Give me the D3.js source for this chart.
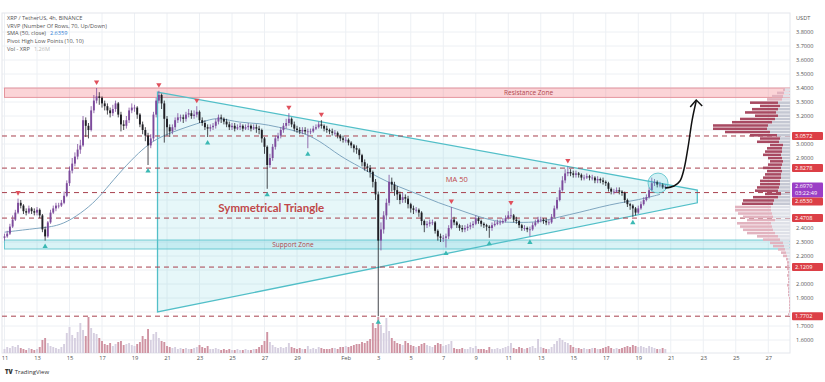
<!DOCTYPE html>
<html><head><meta charset="utf-8">
<script src="https://cdn.jsdelivr.net/npm/d3@7"></script>
<style>
body{margin:0;background:#fff;}
svg{display:block;font-family:"Open Sans",sans-serif;}
</style>
</head><body>
<svg id="c" width="825" height="382"></svg>
<script>
// ---------------- DATA ----------------
const startTime = new Date(2025, 0, 11, 0, 0); // first 4h candle
const open = [
2.33,2.34,2.36,2.41,2.46,2.51,2.58,2.56,2.52,2.51, 2.54,2.52,2.51,2.53,2.49,2.39,2.34,2.44,2.51,2.54,
2.56,2.56,2.58,2.63,2.72,2.81,2.86,2.91,2.96,2.99, 3.17,3.13,3.10,3.24,3.31,3.34,3.33,3.29,3.27,3.24,
3.22,3.25,3.29,3.21,3.14,3.13,3.17,3.24,3.26,3.26, 3.21,3.14,3.10,3.06,2.99,3.04,3.21,3.31,3.35,3.29,
3.18,3.12,3.09,3.12,3.17,3.19,3.19,3.18,3.21,3.22, 3.20,3.21,3.23,3.17,3.15,3.12,3.11,3.12,3.13,3.16,
3.19,3.18,3.16,3.14,3.12,3.13,3.11,3.12,3.13,3.11, 3.12,3.13,3.11,3.12,3.11,3.10,3.04,2.98,2.85,2.90,
2.98,3.04,3.06,3.10,3.13,3.15,3.18,3.14,3.11,3.10, 3.09,3.10,3.09,3.09,3.09,3.11,3.12,3.14,3.13,3.11,
3.10,3.09,3.08,3.08,3.06,3.04,3.03,3.03,3.01,2.99, 2.97,2.96,2.92,2.87,2.84,2.83,2.80,2.73,2.64,2.31,
2.39,2.49,2.58,2.73,2.71,2.67,2.64,2.60,2.62,2.61, 2.57,2.54,2.53,2.53,2.51,2.45,2.42,2.43,2.44,2.44,
2.38,2.34,2.33,2.33,2.34,2.40,2.46,2.44,2.42,2.40, 2.39,2.40,2.41,2.42,2.43,2.47,2.45,2.43,2.42,2.41,
2.40,2.42,2.43,2.44,2.44,2.45,2.47,2.49,2.49,2.46, 2.45,2.42,2.40,2.40,2.39,2.39,2.42,2.44,2.46,2.46,
2.45,2.44,2.44,2.48,2.54,2.60,2.67,2.74,2.79,2.80, 2.79,2.78,2.79,2.78,2.76,2.76,2.77,2.76,2.76,2.74,
2.75,2.74,2.73,2.72,2.68,2.66,2.66,2.67,2.66,2.65, 2.60,2.57,2.56,2.54,2.51,2.54,2.57,2.60,2.62,2.67,
2.72,2.73,2.71,2.71,2.69];
const high = [
2.36,2.38,2.43,2.49,2.53,2.61,2.60,2.57,2.54,2.56, 2.55,2.54,2.55,2.54,2.50,2.41,2.45,2.53,2.56,2.58,
2.58,2.60,2.66,2.74,2.84,2.90,2.94,3.00,3.03,3.20, 3.19,3.15,3.27,3.35,3.40,3.37,3.34,3.31,3.29,3.26,
3.28,3.31,3.30,3.23,3.17,3.20,3.26,3.29,3.28,3.27, 3.22,3.16,3.12,3.08,3.07,3.23,3.33,3.38,3.36,3.31,
3.20,3.14,3.14,3.19,3.22,3.21,3.21,3.23,3.25,3.24, 3.24,3.27,3.24,3.19,3.17,3.14,3.14,3.15,3.18,3.21,
3.21,3.19,3.18,3.16,3.15,3.15,3.14,3.15,3.14,3.14, 3.15,3.14,3.14,3.14,3.13,3.11,3.05,2.99,2.93,3.00,
3.06,3.08,3.12,3.15,3.18,3.22,3.19,3.16,3.13,3.12, 3.12,3.12,3.11,3.11,3.13,3.14,3.16,3.17,3.14,3.13,
3.11,3.11,3.10,3.09,3.07,3.06,3.05,3.04,3.02,3.00, 2.99,2.97,2.93,2.89,2.86,2.85,2.81,2.75,2.66,2.44,
2.52,2.61,2.78,2.76,2.73,2.70,2.66,2.65,2.64,2.63, 2.58,2.56,2.55,2.54,2.52,2.46,2.45,2.46,2.46,2.45,
2.39,2.36,2.35,2.36,2.42,2.55,2.48,2.45,2.43,2.42, 2.42,2.43,2.44,2.45,2.49,2.48,2.46,2.44,2.43,2.42,
2.44,2.45,2.46,2.46,2.47,2.49,2.52,2.54,2.50,2.48, 2.46,2.43,2.42,2.41,2.41,2.44,2.46,2.48,2.48,2.47,
2.47,2.46,2.50,2.56,2.62,2.69,2.77,2.82,2.84,2.82, 2.81,2.81,2.80,2.79,2.78,2.79,2.78,2.78,2.77,2.77,
2.76,2.76,2.74,2.73,2.69,2.68,2.69,2.69,2.67,2.66, 2.61,2.58,2.57,2.55,2.56,2.59,2.62,2.64,2.69,2.76,
2.75,2.74,2.73,2.72,2.71];
const low = [
2.31,2.33,2.35,2.40,2.45,2.50,2.54,2.50,2.49,2.50, 2.50,2.49,2.49,2.47,2.37,2.31,2.33,2.43,2.50,2.52,
2.54,2.55,2.57,2.62,2.70,2.79,2.84,2.89,2.93,2.98, 3.05,3.04,3.09,3.22,3.29,3.28,3.26,3.24,3.21,3.19,
3.20,3.23,3.19,3.09,3.10,3.11,3.15,3.22,3.23,3.18, 3.12,3.07,3.02,2.85,2.97,3.02,3.19,3.29,3.25,3.01,
3.06,3.05,3.07,3.10,3.15,3.16,3.15,3.16,3.19,3.18, 3.18,3.19,3.15,3.13,3.10,3.05,3.09,3.10,3.11,3.14,
3.15,3.14,3.12,3.10,3.10,3.09,3.10,3.10,3.09,3.10, 3.10,3.09,3.10,3.08,3.07,3.01,2.93,2.68,2.83,2.88,
2.96,3.02,3.04,3.08,3.11,3.13,3.12,3.09,3.08,3.07, 3.07,3.07,2.97,3.07,3.08,3.10,3.11,3.11,3.09,3.08,
3.07,3.06,3.06,3.04,3.02,3.01,3.01,2.99,2.97,2.94, 2.93,2.89,2.84,2.81,2.80,2.76,2.69,2.60,1.77,2.24,
2.36,2.46,2.56,2.66,2.63,2.60,2.57,2.58,2.58,2.54, 2.51,2.50,2.51,2.48,2.42,2.37,2.40,2.41,2.42,2.36,
2.31,2.30,2.30,2.26,2.32,2.39,2.42,2.40,2.38,2.37, 2.37,2.38,2.39,2.40,2.42,2.43,2.41,2.40,2.38,2.33,
2.38,2.41,2.42,2.42,2.43,2.44,2.46,2.47,2.44,2.43, 2.40,2.38,2.38,2.37,2.34,2.38,2.41,2.43,2.44,2.43,
2.42,2.42,2.43,2.47,2.53,2.59,2.66,2.72,2.77,2.77, 2.76,2.76,2.76,2.74,2.74,2.75,2.74,2.74,2.72,2.72,
2.72,2.71,2.70,2.66,2.64,2.64,2.65,2.64,2.63,2.58, 2.55,2.53,2.48,2.49,2.50,2.53,2.56,2.59,2.61,2.66,
2.70,2.69,2.69,2.68,2.68];
const close = [
2.34,2.36,2.41,2.46,2.51,2.58,2.56,2.52,2.51,2.54, 2.52,2.51,2.53,2.49,2.39,2.34,2.44,2.51,2.54,2.56,
2.56,2.58,2.63,2.72,2.81,2.86,2.91,2.96,2.99,3.17, 3.13,3.10,3.24,3.31,3.34,3.33,3.29,3.27,3.24,3.22,
3.25,3.29,3.21,3.14,3.13,3.17,3.24,3.26,3.26,3.21, 3.14,3.10,3.06,2.99,3.04,3.21,3.31,3.35,3.29,3.18,
3.12,3.09,3.12,3.17,3.19,3.19,3.18,3.21,3.22,3.20, 3.21,3.23,3.17,3.15,3.12,3.11,3.12,3.13,3.16,3.19,
3.18,3.16,3.14,3.12,3.13,3.11,3.12,3.13,3.11,3.12, 3.13,3.11,3.12,3.11,3.10,3.04,2.98,2.85,2.90,2.98,
3.04,3.06,3.10,3.13,3.15,3.18,3.14,3.11,3.10,3.09, 3.10,3.09,3.09,3.09,3.11,3.12,3.14,3.13,3.11,3.10,
3.09,3.08,3.08,3.06,3.04,3.03,3.03,3.01,2.99,2.97, 2.96,2.92,2.87,2.84,2.83,2.80,2.73,2.64,2.31,2.39,
2.49,2.58,2.73,2.71,2.67,2.64,2.60,2.62,2.61,2.57, 2.54,2.53,2.53,2.51,2.45,2.42,2.43,2.44,2.44,2.38,
2.34,2.33,2.33,2.34,2.40,2.46,2.44,2.42,2.40,2.39, 2.40,2.41,2.42,2.43,2.47,2.45,2.43,2.42,2.41,2.40,
2.42,2.43,2.44,2.44,2.45,2.47,2.49,2.49,2.46,2.45, 2.42,2.40,2.40,2.39,2.39,2.42,2.44,2.46,2.46,2.45,
2.44,2.44,2.48,2.54,2.60,2.67,2.74,2.79,2.80,2.79, 2.78,2.79,2.78,2.76,2.76,2.77,2.76,2.76,2.74,2.75,
2.74,2.73,2.72,2.68,2.66,2.66,2.67,2.66,2.65,2.60, 2.57,2.56,2.54,2.51,2.54,2.57,2.60,2.62,2.67,2.72,
2.73,2.71,2.71,2.69,2.697];
const volume = [
40,60,50,70,60,80,50,40,30,50,40,30,40,60,
130,150,100,
70,60,50,40,60,90,
200,260,180,150,210,300,230,170,360,250,200,190,150,
120,90,80,100,70,90,110,120,80,90,100,80,70,90,110,170,140,
240,130,190,210,150,120,110,
70,60,50,60,40,50,40,50,40,40,50,60,80,60,50,70,40,40,50,40,30,40,30,40,30,30,40,30,30,40,30,30,40,40,60,80,
120,210,110,80,60,
50,60,50,60,100,60,50,40,50,40,40,70,40,50,40,60,50,40,40,40,50,50,40,60,60,70,60,70,80,90,
90,110,100,120,140,300,250,
360,280,200,350,220,150,120,100,
90,80,120,100,80,70,60,70,90,100,80,70,60,80,100,90,70,80,90,120,
50,40,40,50,40,40,60,50,70,40,40,40,30,60,40,40,50,40,50,60,70,100,50,40,60,50,40,50,60,70,50,140,60,50,40,40,60,
90,120,150,130,110,100,80,60,
50,50,40,50,40,40,50,50,40,40,50,60,70,50,40,50,40,50,60,70,60,80,70,60,70,60,50,70,60,50,40,40,50,40];

// SMA 50 line (candle index, value)
const maIdx = [0,13,18,23,30,35,40,47,52,57,67,75,79,87,94,101,109,116,124,131,138,146,153,160,168,175,183,190,197,205,212,220,227,234,242];
const maVal = [2.37,2.40,2.41,2.44,2.53,2.62,2.74,2.89,2.98,3.05,3.12,3.17,3.19,3.15,3.15,3.12,3.09,3.03,2.91,2.84,2.76,2.69,2.64,2.58,2.53,2.48,2.44,2.44,2.44,2.48,2.51,2.55,2.58,2.60,2.64];

// Pivot points (candle indexes)
const pivotHighIdx = [5,34,57,71,105,117,165,187,208];
const pivotLowIdx = [15,53,75,97,112,138,163,179,194,232];

// Volume profile (70 rows, top = 3.40 down to 1.77)
const profileHigh = 3.40, profileLow = 1.77;
const valueAreaHigh = 3.31, valueAreaLow = 2.56;
const profileUp = [2,7,11,15,28,20,26,31,23,35, 40,55,54,45,27,20,22,13,15,17, 18,14,13,14,18,15,16,18,20,20,
  22,23,16,25,31,31,36,36,34,30, 28,34,32,30,28,21,17,13,11,7, 5,4,
  2,2,2,2,1,2,1,1,2,1,1,1,1,1,1,1,1,1];
const profileDown = [5,6,7,8,12,10,12,14,12,15, 18,22,23,20,13,10,11,7,8,8, 9,8,7,8,9,8,9,9,10,10,
  11,12,9,12,16,17,19,19,18,17, 15,19,18,17,15,12,10,7,6,5, 4,3,
  2,1,1,1,1,1,1,1,1,1,1,1,0,0,0,0,0,1];

// Horizontal levels
const levels = [3.0572, 2.8278, 2.6530, 2.4708, 2.1209, 1.7702];
const lastPrice = 2.6970, countdown = "03:22:49";
const resistanceZone = [3.333, 3.40];
const supportZone = [2.25, 2.314];

// Triangle (candle-index time, price)
const triIdx = [56.5, 255.8, 255.8, 56.5];
const triPrice = [3.371, 2.671, 2.58, 1.80];

// Projection arrow
const arrowIdx = [243.9, 247.2, 249.4, 250.9, 252.4, 253.9, 255.4];
const arrowPrice = [2.686, 2.70, 2.736, 2.821, 2.979, 3.171, 3.307];

// X-axis ticks
const tickDates = [[0,11],[0,13],[0,15],[0,17],[0,19],[0,21],[0,23],[0,25],[0,27],[0,29],[1,1],[1,3],[1,5],[1,7],[1,9],[1,11],[1,13],[1,15],[1,17],[1,19],[1,21],[1,23],[1,25],[1,27]];
const tickLabels = ["11","13","15","17","19","21","23","25","27","29","Feb","3","5","7","9","11","13","15","17","19","21","23","25","27"];

const legendLines = ["XRP / TetherUS, 4h, BINANCE", "VRVP (Number Of Rows, 70, Up/Down)", "SMA (50, close)", "Pivot High Low Points (10, 10)", "Vol - XRP"];
const legendValues = ["", "", "2.6359", "", "1.26M"];

// ---------------- CHART ----------------
const svg = d3.select("#c");
const plotL = 2, plotR = 790, plotT = 13, plotB = 353;
const HOUR = 3600 * 1000;
const ct = i => new Date(startTime.getTime() + i * 4 * HOUR);

const x = d3.scaleTime().domain([new Date(2025, 0, 11), new Date(2025, 1, 27)]).range([4.5, 768.25]);
const y = d3.scaleLinear().domain([1.6, 3.8]).range([340, 32]);
const yv = d3.scaleLinear().domain([0, 360]).range([plotB, plotB - 36]);
const profX = d3.scaleLinear().domain([0, 77]).range([plotR, plotR - 77]);

svg.append("defs").append("clipPath").attr("id", "clip")
  .append("rect").attr("x", plotL).attr("y", plotT).attr("width", plotR - plotL).attr("height", plotB - plotT);

const priceTicks = y.ticks(22);
const tickDateObjs = tickDates.map(d => new Date(2025, d[0], d[1]));

// grid
const grid = svg.append("g").attr("clip-path", "url(#clip)");
grid.selectAll("line.h").data(priceTicks).join("line")
  .attr("x1", plotL).attr("x2", plotR).attr("y1", d => y(d)).attr("y2", d => y(d))
  .attr("stroke", "#edf0f4").attr("stroke-width", 1);
grid.selectAll("line.v").data(tickDateObjs).join("line")
  .attr("x1", d => x(d)).attr("x2", d => x(d)).attr("y1", plotT).attr("y2", plotB)
  .attr("stroke", "#edf0f4").attr("stroke-width", 1);

svg.append("rect").attr("x", plotL).attr("y", plotT).attr("width", plotR - plotL).attr("height", plotB - plotT)
  .attr("fill", "none").attr("stroke", "#e3e6ec");

const g = svg.append("g").attr("clip-path", "url(#clip)");

// zones
const zoneX0 = x(ct(0));
g.append("rect").attr("x", zoneX0).attr("width", plotR - zoneX0)
  .attr("y", y(resistanceZone[1])).attr("height", y(resistanceZone[0]) - y(resistanceZone[1]))
  .attr("fill", "rgba(242,120,130,0.32)").attr("stroke", "#e38e97").attr("stroke-width", 0.9);
g.append("rect").attr("x", zoneX0).attr("width", plotR - zoneX0)
  .attr("y", y(supportZone[1])).attr("height", y(supportZone[0]) - y(supportZone[1]))
  .attr("fill", "rgba(80,200,215,0.22)").attr("stroke", "#62c6cf").attr("stroke-width", 0.9);

// triangle
const triPts = triIdx.map((t, i) => [x(ct(t)), y(triPrice[i])]);
g.append("path").attr("d", d3.line()(triPts) + "Z")
  .attr("fill", "rgba(80,200,215,0.14)").attr("stroke", "#52bfc8").attr("stroke-width", 1.3);

// dashed levels
g.selectAll("line.lvl").data(levels).join("line")
  .attr("x1", plotL).attr("x2", plotR).attr("y1", d => y(d)).attr("y2", d => y(d))
  .attr("stroke", "#a8404e").attr("stroke-width", 1).attr("stroke-dasharray", "5,4");

// volume bars
const candles = close.map((c, i) => ({ t: ct(i), o: open[i], h: high[i], l: low[i], c, v: volume[i], i }));
const bw = 1.9;
g.selectAll("rect.vol").data(candles).join("rect")
  .attr("x", d => x(d.t) - bw / 2).attr("width", bw)
  .attr("y", d => yv(d.v)).attr("height", d => plotB - yv(d.v))
  .attr("fill", d => d.c >= d.o ? "#d6cfe0" : "#cf93a2");

// volume profile
const step = (profileHigh - profileLow) / profileUp.length;
const rows = profileUp.map((u, k) => {
  const top = profileHigh - k * step, bot = top - step;
  return { top, bot, up: u, down: profileDown[k], va: (top + bot) / 2 <= valueAreaHigh && (top + bot) / 2 >= valueAreaLow };
});
const pg = g.append("g");
pg.selectAll("rect.pd").data(rows).join("rect")
  .attr("x", d => profX(d.down)).attr("width", d => plotR - profX(d.down))
  .attr("y", d => y(d.top) + 0.35).attr("height", d => Math.max(0.5, y(d.bot) - y(d.top) - 0.7))
  .attr("fill", d => d.va ? "#c5c8d3" : "#dfe1e8");
pg.selectAll("rect.pu").data(rows).join("rect")
  .attr("x", d => profX(d.down + d.up)).attr("width", d => profX(d.down) - profX(d.down + d.up))
  .attr("y", d => y(d.top) + 0.35).attr("height", d => Math.max(0.5, y(d.bot) - y(d.top) - 0.7))
  .attr("fill", d => d.va ? "#a84a62" : "#e2b3bf");

// MA 50
g.append("path").datum(maIdx.map((t, i) => [x(ct(t)), y(maVal[i])]))
  .attr("d", d3.line().curve(d3.curveBasis))
  .attr("fill", "none").attr("stroke", "#7fa6c0").attr("stroke-width", 1);

// candles
const upC = "#7d4b9c", dnC = "#1e1e24";
g.selectAll("line.wick").data(candles).join("line")
  .attr("x1", d => x(d.t)).attr("x2", d => x(d.t))
  .attr("y1", d => y(d.h)).attr("y2", d => y(d.l))
  .attr("stroke", d => d.c >= d.o ? upC : dnC).attr("stroke-width", 0.8);
g.selectAll("rect.body").data(candles).join("rect")
  .attr("x", d => x(d.t) - bw / 2).attr("width", bw)
  .attr("y", d => y(Math.max(d.o, d.c)))
  .attr("height", d => Math.max(0.8, Math.abs(y(d.o) - y(d.c))))
  .attr("fill", d => d.c >= d.o ? upC : dnC);

// pivot markers
const tri = d3.symbol().type(d3.symbolTriangle).size(12);
g.selectAll("path.ph").data(pivotHighIdx).join("path")
  .attr("d", tri)
  .attr("transform", i => `translate(${x(ct(i))},${y(high[i]) - 6}) rotate(180)`)
  .attr("fill", "#e0505c");
g.selectAll("path.pl").data(pivotLowIdx).join("path")
  .attr("d", tri)
  .attr("transform", i => `translate(${x(ct(i))},${y(low[i]) + 6})`)
  .attr("fill", "#3bb9b4");

// breakout circle
g.append("circle").attr("cx", x(ct(241.3))).attr("cy", y(2.721)).attr("r", 10)
  .attr("fill", "rgba(80,200,215,0.25)").attr("stroke", "#52bfc8").attr("stroke-width", 0.8);

// arrow
const arrowPts = arrowIdx.map((t, i) => [x(ct(t)), y(arrowPrice[i])]);
g.append("path").attr("d", d3.line().curve(d3.curveCatmullRom)(arrowPts))
  .attr("fill", "none").attr("stroke", "#111").attr("stroke-width", 1.5);
const tip = arrowPts[arrowPts.length - 1];
g.append("path").attr("d", `M${tip[0] - 6},${tip[1] + 6}L${tip[0]},${tip[1] - 1}L${tip[0] + 6},${tip[1] + 5}`)
  .attr("fill", "none").attr("stroke", "#111").attr("stroke-width", 1.5);

// annotation texts
const txtC = "#c0474a";
g.append("text").attr("x", x(new Date(2025, 0, 27, 10))).attr("y", y(2.543)).attr("dy", "0.35em")
  .attr("text-anchor", "middle").attr("font-family", "Lato, 'Open Sans', sans-serif")
  .attr("font-weight", 700).attr("font-size", 11.5).attr("fill", txtC).text("Symmetrical Triangle");
g.append("text").attr("x", x(new Date(2025, 1, 7, 20))).attr("y", y(2.75)).attr("dy", "0.35em")
  .attr("text-anchor", "middle").attr("font-size", 7.5).attr("fill", txtC).text("MA 50");
g.append("text").attr("x", x(new Date(2025, 0, 28, 18))).attr("y", y((supportZone[0] + supportZone[1]) / 2)).attr("dy", "0.35em")
  .attr("text-anchor", "middle").attr("font-size", 6.5).attr("fill", "#b0474c").text("Support Zone");
g.append("text").attr("x", x(new Date(2025, 1, 12, 6))).attr("y", y((resistanceZone[0] + resistanceZone[1]) / 2)).attr("dy", "0.35em")
  .attr("text-anchor", "middle").attr("font-size", 6.5).attr("fill", "#b0474c").text("Resistance Zone");

// label positions on the price axis
const lpY = y(lastPrice);
const lvlLabels = levels.map(p => {
  let cy = y(p);
  if (cy > lpY - 8 && cy < lpY + 15) cy = lpY + 15;
  return { p, cy };
});
const busy = lvlLabels.map(d => [d.cy - 4, d.cy + 4]).concat([[lpY - 4, lpY + 11]]);
const freeTicks = priceTicks.filter(t => busy.every(b => y(t) + 3 < b[0] || y(t) - 3 > b[1]));

// right price axis
const yAxis = svg.append("g").attr("transform", `translate(${plotR},0)`)
  .call(d3.axisRight(y).tickValues(freeTicks).tickFormat(d3.format(".4f")).tickSize(0).tickPadding(6));
yAxis.select(".domain").remove();
yAxis.selectAll("text").attr("font-size", 5.6).attr("fill", "#555").attr("font-family", "'Open Sans',sans-serif");

// last price label (purple)
svg.append("rect").attr("x", plotR + 2).attr("y", lpY - 4).attr("width", 31).attr("height", 15).attr("rx", 1).attr("fill", "#9b3ec6");
svg.append("text").attr("x", plotR + 5).attr("y", lpY).attr("dy", "0.35em").attr("font-size", 5.6).attr("fill", "#fff").text(d3.format(".4f")(lastPrice));
svg.append("text").attr("x", plotR + 5).attr("y", lpY + 7).attr("dy", "0.35em").attr("font-size", 5.6).attr("fill", "#fff").text(countdown);

// level labels (red)
svg.selectAll("rect.ll").data(lvlLabels).join("rect")
  .attr("x", plotR + 2).attr("y", d => d.cy - 4).attr("width", 31).attr("height", 8).attr("rx", 1).attr("fill", "#dc3f46");
svg.selectAll("text.ll").data(lvlLabels).join("text")
  .attr("x", plotR + 5).attr("y", d => d.cy).attr("dy", "0.35em").attr("font-size", 5.6).attr("fill", "#fff")
  .text(d => d3.format(".4f")(d.p));

svg.append("text").attr("x", plotR + 6).attr("y", 20).attr("font-size", 5.6).attr("fill", "#555").text("USDT");

// bottom time axis
const xAxis = svg.append("g").attr("transform", `translate(0,${plotB})`)
  .call(d3.axisBottom(x).tickValues(tickDateObjs).tickFormat((d, i) => tickLabels[i]).tickSize(0).tickPadding(3));
xAxis.select(".domain").remove();
xAxis.selectAll("text").attr("font-size", 5.8).attr("fill", "#555").attr("font-family", "'Open Sans',sans-serif");

// legend
const lg = svg.append("g").attr("font-size", 5.6).attr("fill", "#555");
legendLines.forEach((t, i) => {
  const tx = lg.append("text").attr("x", 7).attr("y", 18 + i * 7.7).attr("dy", "0.35em");
  tx.append("tspan").text(t);
  if (legendValues[i]) tx.append("tspan").attr("dx", 4).attr("fill", i === 2 ? "#2f7fd6" : "#b9b9b9").text(legendValues[i]);
});

// footer logo
const ft = svg.append("text").attr("x", 5).attr("y", 374).attr("font-size", 6).attr("fill", "#333");
ft.append("tspan").attr("font-weight", 800).text("TV");
ft.append("tspan").attr("dx", 2).text("TradingView");
</script>
</body></html>
